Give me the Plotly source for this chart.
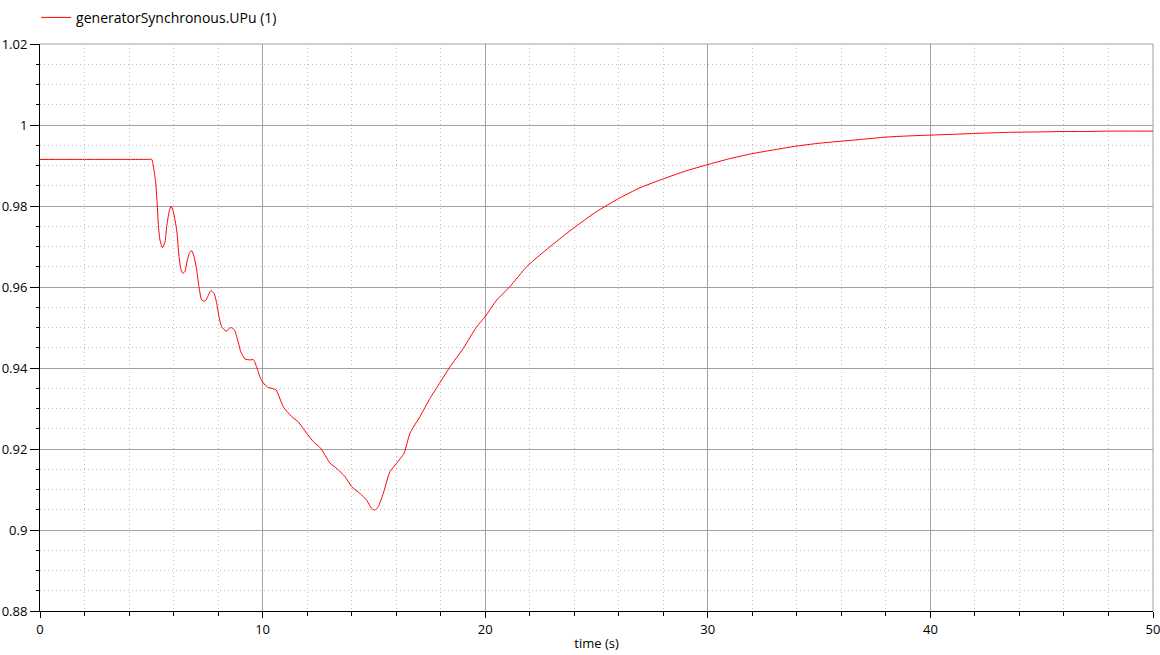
import plotly.graph_objects as go

time_s = [0.0, 1.0, 2.0, 3.0, 4.0, 4.8, 5.02, 5.12, 5.20, 5.27, 5.32, 5.39, 5.50, 5.62, 5.69, 5.80,
          5.89, 5.99, 6.14, 6.24,
          6.32, 6.41, 6.51, 6.62, 6.71, 6.81, 6.92, 7.04, 7.14, 7.26, 7.41, 7.53, 7.68, 7.82,
          7.94, 8.04, 8.16, 8.36, 8.57, 8.73, 8.88, 9.02, 9.21, 9.46, 9.58, 9.73, 9.91, 10.11,
          10.26, 10.60, 10.93, 11.31, 11.60, 11.98, 12.28, 12.61, 13.03, 13.33, 13.70, 14.00,
          14.38, 14.67, 14.90, 15.05, 15.20, 15.42, 15.72, 16.02, 16.35, 16.62, 17.07, 17.52,
          17.90, 18.42, 19.02, 19.62, 20.00, 20.52, 21.11, 21.86, 22.61, 23.51, 24.03, 25.00,
          25.98, 26.95, 28.00, 28.98, 29.98, 30.92, 31.97, 33.0, 33.99, 35.0, 36.01, 37.0, 37.96,
          39.0, 39.98, 41.0, 41.93, 43.0, 43.65, 45.0, 46.0, 47.0, 48.0, 49.0, 50.0]
upu = [0.9915, 0.9915, 0.9915, 0.9915, 0.9915, 0.9915, 0.9915, 0.9889, 0.9856, 0.9800, 0.9751,
       0.9716, 0.9697, 0.9712, 0.9749, 0.9786,
       0.9800, 0.9786, 0.9741, 0.9679, 0.9646, 0.9634, 0.9638, 0.9667, 0.9683, 0.9690, 0.9675,
       0.9642, 0.9601, 0.9568, 0.9565, 0.9576, 0.9591, 0.9584, 0.9560, 0.9527, 0.9502, 0.9491,
       0.9500, 0.9494, 0.9469, 0.9440, 0.9422, 0.9420, 0.9421, 0.9403, 0.9374, 0.9358,
       0.9352, 0.9346, 0.9304, 0.9280, 0.9267, 0.9239, 0.9218, 0.9202, 0.9165, 0.9152, 0.9132,
       0.9107, 0.9090, 0.9074, 0.9053, 0.9049, 0.9058, 0.9090, 0.9144, 0.9165, 0.9189, 0.9239,
       0.9280, 0.9325, 0.9358, 0.9403, 0.9449, 0.9502, 0.9527, 0.9568, 0.9601, 0.9650, 0.9686,
       0.9726, 0.9748, 0.9786, 0.9818, 0.9845, 0.9867, 0.9886, 0.9902, 0.9916, 0.9929, 0.9939,
       0.9948, 0.9955, 0.9960, 0.9965, 0.9970, 0.9973, 0.9975, 0.9977, 0.9979, 0.9981, 0.9982,
       0.9983, 0.9984, 0.9984, 0.9985, 0.9985, 0.9985]

series_name = "generatorSynchronous.UPu (1)"
x_title = "time (s)"

FONT = "Open Sans"
GRID = "#a0a0a0"
MINOR = "#c0c0c0"

fig = go.Figure()
fig.add_trace(go.Scatter(x=time_s, y=upu, mode="lines", name=series_name,
                         line=dict(color="#ff0000", width=1, shape="spline", smoothing=0.5)))

# gray frame on the top and right edges of the plot area (grid lines at the range ends)
fig.add_shape(type="line", xref="paper", yref="paper", x0=1, x1=1, y0=0, y1=1,
              line=dict(color=GRID, width=1), layer="below")
fig.add_shape(type="line", xref="paper", yref="paper", x0=0, x1=1, y0=1, y1=1,
              line=dict(color=GRID, width=1), layer="below")

fig.update_layout(
    width=1160, height=655,
    margin=dict(l=40, r=7, t=44, b=44, autoexpand=False),
    paper_bgcolor="white", plot_bgcolor="white",
    font=dict(family=FONT, size=13, color="black"),
    showlegend=True,
    legend=dict(x=-0.0035, y=1.018, xanchor="left", yanchor="bottom", xref="paper", yref="paper",
                orientation="h", font=dict(size=14, family=FONT), bgcolor="rgba(0,0,0,0)",
                borderwidth=0),
    xaxis=dict(range=[0, 50], dtick=10, tick0=0, showgrid=True, gridcolor=GRID, gridwidth=1,
               showline=True, linecolor="black", linewidth=1, ticks="outside", ticklen=6,
               tickcolor="black", zeroline=False, ticklabeloverflow="allow",
               title=dict(text=x_title, font=dict(size=13), standoff=2),
               minor=dict(dtick=2, tick0=0, showgrid=True, gridcolor=MINOR, griddash="1px,3px",
                          ticks="outside", ticklen=4, tickcolor="black")),
    yaxis=dict(range=[0.88, 1.02], dtick=0.02, tick0=0.88, showgrid=True, gridcolor=GRID,
               gridwidth=1, showline=True, linecolor="black", linewidth=1, ticks="outside",
               ticklen=9, tickcolor="black", zeroline=False, ticklabeloverflow="allow",
               minor=dict(dtick=0.005, tick0=0.88, showgrid=True, gridcolor=MINOR,
                          griddash="1px,3px", ticks="outside", ticklen=3, tickcolor="black")),
)

fig.write_html("out.html", config={"displayModeBar": False},
               post_script="document.body.style.margin='0';document.body.style.overflow='hidden';")
